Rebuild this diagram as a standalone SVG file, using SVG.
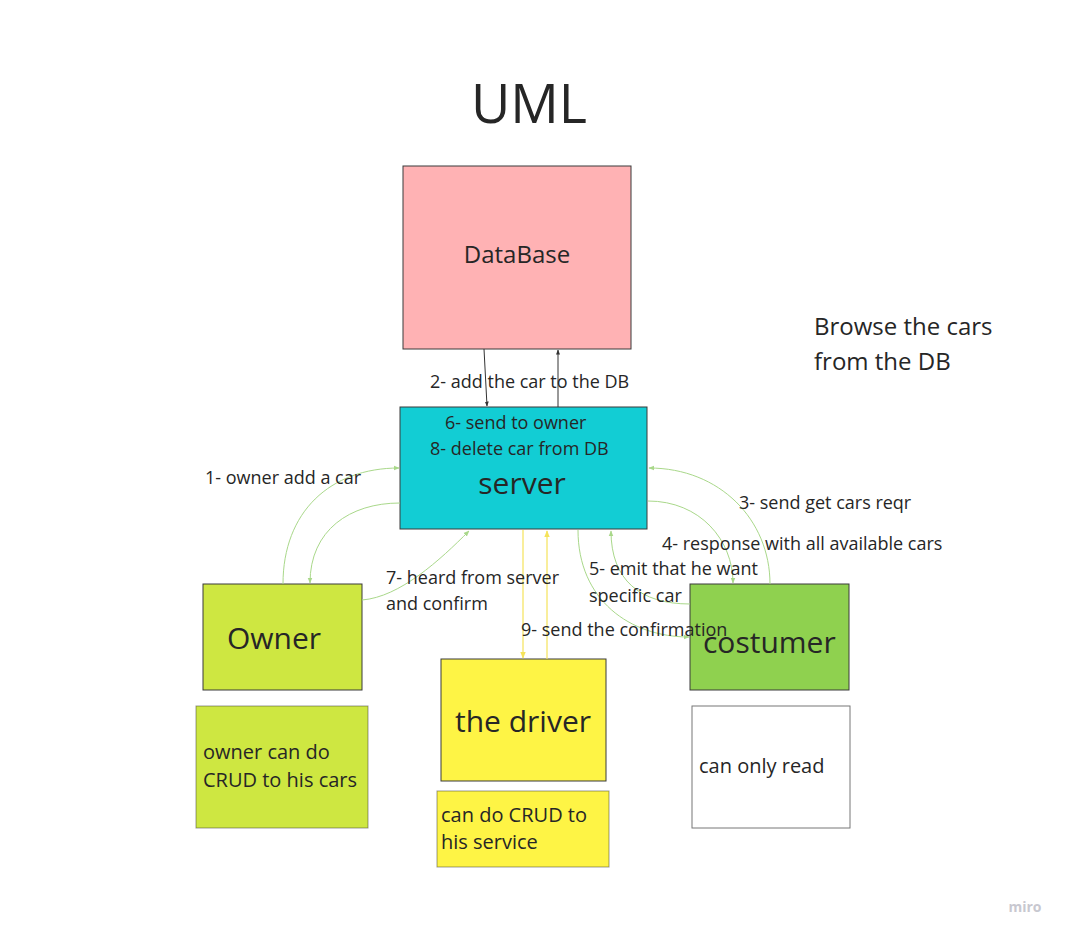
<svg xmlns="http://www.w3.org/2000/svg" width="1067" height="936" viewBox="0 0 1067 936">
<defs>
<style>
text{font-family:"Open Sans","Noto Sans","Liberation Sans",sans-serif;fill:#262626}
.lbl{font-size:18px}
.note{font-size:20px}
.big{font-size:30px}
.box{stroke:#3a3a3a;stroke-width:1}
.g{fill:none;stroke:#a9d88a;stroke-width:1}
.y{fill:none;stroke:#f5e35a;stroke-width:1.2}
.k{fill:none;stroke:#333;stroke-width:1}
</style>
<marker id="ag" viewBox="0 0 10 10" refX="9" refY="5" markerWidth="6" markerHeight="6" orient="auto"><path d="M0,1 L10,5 L0,9 z" fill="#a9d88a"/></marker>
<marker id="ay" viewBox="0 0 10 10" refX="9" refY="5" markerWidth="6" markerHeight="6" orient="auto"><path d="M0,1 L10,5 L0,9 z" fill="#f5e35a"/></marker>
<marker id="ak" viewBox="0 0 10 10" refX="9" refY="5" markerWidth="5" markerHeight="5" orient="auto"><path d="M0,1 L10,5 L0,9 z" fill="#333"/></marker>
</defs>
<rect width="1067" height="936" fill="#ffffff"/>
<text x="529" y="123" text-anchor="middle" font-size="54">UML</text>
<text x="814" y="335" font-size="24">Browse the cars</text>
<text x="814" y="370" font-size="24">from the DB</text>

<g id="database">
<rect class="box" x="403" y="166" width="228" height="183" fill="#ffb2b4"/>
<text x="517" y="263" text-anchor="middle" font-size="24">DataBase</text>
</g>
<g id="server">
<rect class="box" x="400" y="407" width="247" height="122" fill="#12cdd4"/>
<text class="lbl" x="445" y="429">6- send to owner</text>
<text class="lbl" x="430" y="455">8- delete car from DB</text>
<text x="522" y="494" text-anchor="middle" font-size="30">server</text>
</g>
<g id="owner">
<rect class="box" x="203" y="584" width="159" height="106" fill="#cee741"/>
<text class="big" x="227" y="649">Owner</text>
</g>
<g id="owner-note">
<rect class="box" x="196" y="706" width="172" height="122" fill="#cee741" stroke-opacity="0.5"/>
<text class="note" x="203" y="759">owner can do</text>
<text class="note" x="203" y="787">CRUD to his cars</text>
</g>
<g id="driver">
<rect class="box" x="441" y="659" width="165" height="122" fill="#fef445"/>
<text class="big" x="523" y="732" text-anchor="middle">the driver</text>
</g>
<g id="driver-note">
<rect class="box" x="437" y="791" width="172" height="76" fill="#fef445" stroke-opacity="0.5"/>
<text class="note" x="441" y="822">can do CRUD to</text>
<text class="note" x="441" y="849">his service</text>
</g>
<g id="costumer">
<rect class="box" x="690" y="584" width="159" height="106" fill="#8fd14f"/>
<text class="big" x="703" y="653">costumer</text>
</g>
<g id="costumer-note">
<rect x="692" y="706" width="158" height="122" fill="#ffffff" stroke="#777" stroke-width="1"/>
<text class="note" x="699" y="773">can only read</text>
</g>

<g id="connectors">
<path class="k" d="M484,349 L487,406" marker-end="url(#ak)"/>
<path class="k" d="M558,407 L558,350" marker-end="url(#ak)"/>
<path class="g" d="M283,584 C283,512 330,468 399,468" marker-end="url(#ag)"/>
<path class="g" d="M400,503 C350,503 310,530 310,583" marker-end="url(#ag)"/>
<path class="g" d="M362,600 C400,597 440,560 469,531" marker-end="url(#ag)"/>
<path class="g" d="M770,584 C770,520 720,468 649,468" marker-end="url(#ag)"/>
<path class="g" d="M648,501 C700,501 733,540 733,583" marker-end="url(#ag)"/>
<path class="g" d="M690,604 C640,604 611,580 611,531" marker-end="url(#ag)"/>
<path class="g" d="M578,530 C578,600 630,637 689,637" marker-end="url(#ag)"/>
<path class="y" d="M523,530 L523,658" marker-end="url(#ay)"/>
<path class="y" d="M547,659 L547,531" marker-end="url(#ay)"/>
<text class="lbl" x="430" y="388">2- add the car to the DB</text>
<text class="lbl" x="205" y="484">1- owner add a car</text>
<text class="lbl" x="386" y="584">7- heard from server</text>
<text class="lbl" x="386" y="610">and confirm</text>
<text class="lbl" x="521" y="636">9- send the confirmation</text>
<text class="lbl" x="589" y="575">5- emit that he want</text>
<text class="lbl" x="589" y="602">specific car</text>
<text class="lbl" x="739" y="509">3- send get cars reqr</text>
<text class="lbl" x="662" y="550">4- response with all available cars</text>
</g>
<text x="1025" y="912" text-anchor="middle" font-size="14" style="fill:#c8c8d0" font-weight="bold">miro</text>
</svg>
